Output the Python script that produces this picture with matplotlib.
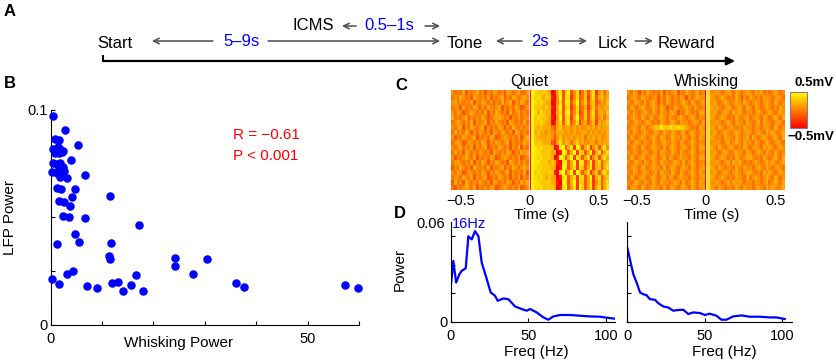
import numpy as np
import matplotlib
matplotlib.use("Agg")
import matplotlib.pyplot as plt

plt.rcParams['font.family'] = ['Liberation Sans', 'DejaVu Sans']

# B: whisking power vs LFP power
whisk_power = [0.5, 2.8, 0.9, 1.6, 5.3, 0.5, 1.2, 1.9, 2.4, 1.7, 0.8, 3.9, 0.5, 1.3,
               1.9, 1.7, 2.3, 2.5, 1.2, 1.8, 3.1, 6.7, 1.2, 2.0, 4.7, 4.2, 1.6, 2.5,
               3.8, 11.6, 2.3, 3.6, 6.7, 17.1, 4.8, 5.6, 1.2, 11.7, 11.3, 11.5, 24.1,
               30.4, 24.2, 27.6, 16.6, 4.4, 3.1, 0.3, 1.7, 7.1, 9.1, 11.9, 13.1, 14.0,
               15.6, 18.0, 36.1, 37.7, 57.3, 59.8, 0.3, 2.2, 1.5]
lfp_power = [0.0974, 0.0907, 0.0865, 0.0862, 0.0839, 0.0817, 0.0814, 0.0820, 0.0811,
             0.0798, 0.0798, 0.0767, 0.0752, 0.0749, 0.0755, 0.0729, 0.0736, 0.0718,
             0.0709, 0.0687, 0.0684, 0.0698, 0.0637, 0.0631, 0.0634, 0.0595, 0.0578,
             0.0572, 0.0552, 0.0598, 0.0505, 0.0501, 0.0496, 0.0464, 0.0421, 0.0385,
             0.0377, 0.0381, 0.0322, 0.0307, 0.0311, 0.0305, 0.0276, 0.0236, 0.0233,
             0.0250, 0.0237, 0.0212, 0.0190, 0.0180, 0.0171, 0.0197, 0.0200, 0.0157,
             0.0184, 0.0158, 0.0197, 0.0175, 0.0186, 0.0172, 0.0713, 0.0805, 0.0830]

# C: LFP per trial, digit 0..9 = -0.5..0.5 mV, 0.02 s bins from -0.57 to 0.57 s
quiet_rows = [
    "5454635 4564535 4654536 5456445 09 8777760 1683793 5824736 825746",
    "4546545 3654546 3545635 4654565 09 7876771 0593882 5834726 836756",
    "5645454 6354654 5354645 6354654 09 8787660 1583983 6935736 734657",
    "4553645 4653546 5456354 5465345 09 7776761 0693782 5834625 746566",
    "5465345 6545463 5465453 6456454 09 8687670 1683893 5824736 836657",
    "6454563 5454653 4566545 3546455 09 7877761 0593882 6934736 735746",
    "4565454 6354563 5465453 6545464 09 7787660 1683783 5825635 726567",
    "5456354 6545635 4546535 4654545 09 7676664 3675665 6565565 656566",
    "4645465 3546545 3654654 5365454 09 6766565 4666565 6556656 565656",
    "5354654 5635454 6534565 4546356 09 7666665 3575656 5656465 656556",
    "4565346 5454653 5465456 3545465 09 7776663 2685764 6756556 646566",
    "5456454 6354563 4546545 3546354 09 8787776 0189368 2973682 573685",
    "4645365 4546545 3654546 5354656 09 8877776 6019836 9287369 268368",
    "5354565 4635454 6534565 4546345 09 8787776 0198369 2873682 573686",
    "4565454 6354653 5465453 6546454 09 8877767 6108936 9298359 268367",
    "3546545 3654546 3545635 4654565 09 8787776 6019836 8287368 267368",
    "5465346 5454653 5465456 3545463 09 7877777 1089369 2973582 573686",
    "4554654 6354563 4546545 3546354 09 8787676 6018936 8288369 268367",
    "3645365 4546545 3654546 5354656 09 8877776 6109836 9287368 257368",
    "4354565 4635454 6534565 4546345 09 8787777 6018936 8297368 268368",
]
whisk_rows = [
    "5465354 6545463 5456354 6545645 08 5565456 5465456 5465645 456545",
    "4565465 5456354 6545465 3545655 08 6545654 5465354 6545465 545654",
    "5456546 4565354 6545456 5465456 08 5654565 4565465 4565456 546545",
    "4654565 4565465 3546545 6546545 08 6565456 5456546 5465456 545465",
    "5465456 5465465 4565354 6545466 08 5654565 4656545 5456545 654565",
    "4565465 4654565 4654565 4565455 08 6545654 5465456 4565465 456546",
    "5456545 6545465 4565465 5456546 08 5565456 5465546 5456465 545654",
    "4565465 4567787 7877877 6545465 08 6546545 6545465 5465456 546545",
    "5465456 5456546 5465456 4565456 08 5654565 4565456 5456546 565456",
    "4654565 4565465 4565546 5465465 08 6545465 5465456 4654565 456546",
    "5456546 5465456 5465465 4565455 08 5565456 4565465 5465456 545654",
    "4565465 4565546 4565456 5465466 08 6546545 6545465 4565465 654565",
    "5465456 5456465 5465465 4565455 08 5654565 4565546 5456546 546545",
    "4654565 4565456 4654565 5465466 08 6545654 5465456 6545465 456546",
    "5456546 5465465 5456546 4565455 08 5565456 4656545 4565456 565456",
    "4565465 4565546 4565456 5465456 08 6546545 5465465 5456546 545654",
    "5465456 5456465 5465465 4565465 08 5654565 4565456 6545465 654565",
    "4654565 4565456 4654565 5465456 08 6545654 5465546 4565456 546545",
    "5456546 5465465 5456546 4565465 08 5565456 4656545 5465456 456546",
    "4565465 4565546 4565456 5465456 08 6546545 5465465 5456546 565456",
]

# D: power spectra
quiet_freq = [0, 1.7, 3.5, 5.6, 7.1, 9.7, 11.4, 13.6, 15.7, 17.9, 20.0, 23.3, 25.8,
              28.6, 30.3, 34.0, 37.2, 41.5, 45.8, 49.1, 51.2, 55.5, 59.8, 63.0, 66.2,
              70.6, 77.0, 83.4, 89.9, 96.3, 100.7, 106.0]
quiet_pow = [0.024, 0.0427, 0.0275, 0.0333, 0.0357, 0.0375, 0.060, 0.0578, 0.0636,
             0.060, 0.0415, 0.0298, 0.0205, 0.0182, 0.0147, 0.0163, 0.0158, 0.0107,
             0.0089, 0.0077, 0.0089, 0.0065, 0.003, 0.0014, 0.0037, 0.0047, 0.0047,
             0.0042, 0.0037, 0.0035, 0.0028, 0.0021]
whisk_freq = [0, 1.7, 3.9, 6.0, 8.2, 10.3, 12.4, 14.6, 17.8, 20.0, 23.2, 26.4, 29.6,
              32.8, 36.1, 39.3, 42.5, 46.8, 50.0, 53.2, 57.5, 60.7, 63.9, 68.2, 73.6,
              79.0, 85.4, 91.8, 96.1, 101.5]
whisk_pow = [0.052, 0.0438, 0.0333, 0.0275, 0.0205, 0.0193, 0.0186, 0.0158, 0.0154,
             0.013, 0.0107, 0.010, 0.0077, 0.0082, 0.0084, 0.0054, 0.0065, 0.0061,
             0.0047, 0.0056, 0.0042, 0.0014, 0.0014, 0.0037, 0.0044, 0.0035, 0.0035,
             0.003, 0.003, 0.0019]


def to_matrix(rows):
    m = []
    for r in rows:
        s = ''.join(r.split())
        assert len(s) == 57, (r, len(s))
        m.append([-0.5 + int(c) / 9.0 for c in s])
    return np.array(m)


W, H = 836, 363
fig = plt.figure(figsize=(W / 100, H / 100), dpi=100)


def box(x0, x1, y0, y1):
    # pixel box -> figure fraction
    return [x0 / W, (H - y1) / H, (x1 - x0) / W, (y1 - y0) / H]


blue = (0, 0, 1)

# ---- B scatter
axB = fig.add_axes(box(50.7, 359, 110, 325))
axB.scatter(whisk_power, lfp_power, s=26, color=blue, zorder=3, clip_on=False)
axB.set_xlim(0, 60)
axB.set_ylim(0, 0.1)
axB.set_xticks(np.arange(0, 61, 10))
axB.set_xticklabels(['0', '', '', '', '', '50', ''])
axB.set_yticks([0, 0.025, 0.05, 0.075, 0.1])
axB.set_yticklabels(['0', '', '', '', '0.1'])
for s in ['top', 'right']:
    axB.spines[s].set_visible(False)
axB.tick_params(direction='in', length=3, labelsize=10.5)
axB.tick_params(axis='x', pad=5)
axB.tick_params(axis='y', pad=2)
axB.set_xlabel('Whisking Power', fontsize=11, va='center')
axB.xaxis.set_label_coords(0.416, -0.084)
axB.set_ylabel('LFP Power', fontsize=11, va='center')
axB.yaxis.set_label_coords(-0.132, 0.5)
axB.text(35.5, 0.0884, 'R = \u22120.61', color='red', fontsize=11, va='center')
axB.text(35.5, 0.0787, 'P < 0.001', color='red', fontsize=11, va='center')

# ---- C heatmaps
im = None
for rows, title, xs, labx in [(quiet_rows, 'Quiet', (450.7, 608), 0.58),
                               (whisk_rows, 'Whisking', (627, 785), 0.536)]:
    ax = fig.add_axes(box(xs[0], xs[1], 90, 190))
    im = ax.imshow(to_matrix(rows), cmap='autumn', vmin=-0.5, vmax=0.5, aspect='auto',
                   extent=[-0.57, 0.57, 20, 0], interpolation='nearest')
    ax.axvline(0, color='white', lw=0.8, alpha=0.8)
    ax.set_xlim(-0.57, 0.57)
    ax.set_xticks([-0.5, 0, 0.5])
    ax.set_xticklabels(['\u22120.5', '0', '0.5'])
    ax.set_yticks([])
    ax.tick_params(length=0, labelsize=10.5, pad=3)
    for s in ax.spines.values():
        s.set_visible(False)
    ax.set_title(title, fontsize=11.5, pad=3)
    ax.set_xlabel('Time (s)', fontsize=11, va='center')
    ax.xaxis.set_label_coords(labx, -0.25)

cax = fig.add_axes(box(790, 807, 92, 128))
cb = fig.colorbar(im, cax=cax)
cb.set_ticks([])
cb.outline.set_edgecolor('0.5')

# ---- D spectra
for fr, pw, xs, labx, first in [(quiet_freq, quiet_pow, (450.7, 615), 0.52, True),
                                (whisk_freq, whisk_pow, (627.3, 791.7), 0.588, False)]:
    ax = fig.add_axes(box(xs[0], xs[1], 222, 321.7))
    ax.plot(fr, pw, color=blue, lw=1.6)
    ax.set_xlim(0, 106)
    ax.set_ylim(0, 0.07)
    ax.set_xticks([0, 50, 100])
    ax.set_yticks([0, 0.02, 0.04, 0.06])
    if first:
        ax.set_yticklabels(['0', '', '', ''])
        ax.text(-3.7, 0.0685, '0.06', fontsize=10.5, ha='right', va='center', clip_on=False)
        ax.set_ylabel('Power', fontsize=11, va='center')
        ax.yaxis.set_label_coords(-0.309, 0.52)
        ax.text(1, 0.0685, '16Hz', color=blue, fontsize=10.5, va='center', clip_on=False)
    else:
        ax.set_yticklabels([])
    for s in ['top', 'right']:
        ax.spines[s].set_visible(False)
    ax.tick_params(direction='in', length=3, labelsize=10.5)
    ax.tick_params(axis='x', pad=5)
    ax.tick_params(axis='y', pad=2)
    ax.set_xlabel('Freq (Hz)', fontsize=11, va='center')
    ax.xaxis.set_label_coords(labx, -0.304)

# ---- A timeline and panel letters (pixel coordinates)
ov = fig.add_axes([0, 0, 1, 1])
ov.set_xlim(0, W)
ov.set_ylim(H, 0)
ov.axis('off')

grey = '0.3'


def arrow(x_tail, x_head, y, color=grey, lw=1.1, style='->', ms=10):
    ov.annotate('', xy=(x_head, y), xytext=(x_tail, y),
                arrowprops=dict(arrowstyle=style, color=color, lw=lw,
                                shrinkA=0, shrinkB=0, mutation_scale=ms))


fs = 12
ov.text(97, 43, 'Start', fontsize=fs, va='center')
arrow(213, 152, 41)
ov.text(242, 41, '5\u20139s', fontsize=fs, color=blue, va='center', ha='center')
arrow(268, 440, 41)
ov.text(293, 26, 'ICMS', fontsize=fs, va='center')
arrow(356, 342, 26)
ov.text(389, 26, '0.5\u20131s', fontsize=fs, color=blue, va='center', ha='center')
arrow(425, 440, 26)
ov.text(447, 43, 'Tone', fontsize=fs, va='center')
arrow(522, 496, 41)
ov.text(540, 41, '2s', fontsize=fs, color=blue, va='center', ha='center')
arrow(559, 587, 41)
ov.text(598, 43, 'Lick', fontsize=fs, va='center')
arrow(635, 653, 41)
ov.text(658, 43, 'Reward', fontsize=fs, va='center')

ov.plot([103, 103], [56, 61], color='black', lw=1.5)
arrow(103, 735, 61, color='black', lw=1.6, style='-|>', ms=12)

for letter, x, y in [('A', 10, 11), ('B', 10, 83), ('C', 401, 86), ('D', 400, 213)]:
    ov.text(x, y, letter, fontsize=12, fontweight='bold', va='center', ha='center')

ov.text(834, 83, '0.5mV', fontsize=9.5, fontweight='bold', va='center', ha='right')
ov.text(834, 137, '\u22120.5mV', fontsize=9.5, fontweight='bold', va='center', ha='right')

fig.savefig('out.png', dpi=100)
